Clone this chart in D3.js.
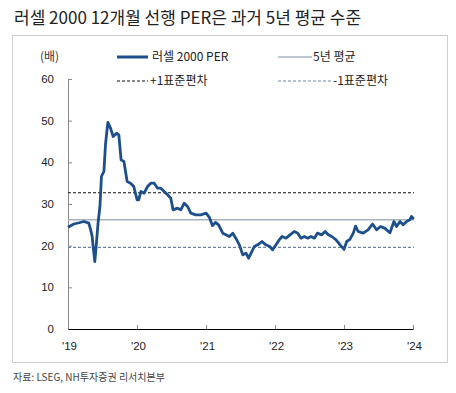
<!DOCTYPE html>
<html>
<head>
<meta charset="utf-8">
<script src="https://cdn.jsdelivr.net/npm/d3@7"></script>
<style>
  body { margin: 0; background: #fff; }
  text { font-family: "Noto Sans CJK KR", "Noto Sans", sans-serif; }
  .num { font-family: "Liberation Sans", Arial, sans-serif; }
</style>
</head>
<body>
<div id="chart"></div>
<script>
// Russell 2000 12m forward PER
const dates = [
  '2019-01-01','2019-02-01','2019-03-01','2019-03-26','2019-04-21','2019-05-01','2019-05-09','2019-05-14',
  '2019-05-23','2019-05-30','2019-06-09','2019-06-19','2019-06-27','2019-07-10','2019-07-19','2019-07-31',
  '2019-08-14','2019-08-28','2019-09-15','2019-09-27','2019-10-09','2019-10-24','2019-11-10','2019-11-28',
  '2019-12-15','2020-01-02','2020-01-10','2020-01-22','2020-02-08','2020-02-26','2020-03-14','2020-04-01',
  '2020-04-19','2020-05-06','2020-05-24','2020-06-11','2020-06-28','2020-07-10','2020-08-03','2020-08-20',
  '2020-09-07','2020-09-25','2020-10-12','2020-11-07','2020-12-04','2021-01-01','2021-01-18','2021-02-04',
  '2021-02-20','2021-03-08','2021-03-30','2021-04-16','2021-05-04','2021-05-22','2021-06-12','2021-06-26',
  '2021-07-14','2021-07-31','2021-08-14','2021-08-27','2021-09-13','2021-10-01','2021-10-24','2021-11-13',
  '2021-12-04','2021-12-19','2022-01-06','2022-01-23','2022-02-07','2022-02-28','2022-03-21','2022-04-13',
  '2022-05-01','2022-05-18','2022-06-05','2022-06-23','2022-07-10','2022-07-28','2022-08-13','2022-09-05',
  '2022-09-23','2022-10-10','2022-10-28','2022-11-20','2022-12-11','2023-01-01','2023-01-15','2023-02-01',
  '2023-02-19','2023-03-03','2023-03-17','2023-04-12','2023-05-08','2023-06-01','2023-06-22','2023-07-13',
  '2023-08-04','2023-09-01','2023-09-22','2023-10-06','2023-10-24','2023-11-10','2023-11-28','2023-12-15',
  '2023-12-24','2024-01-05'
]
const per = [
  24.4, 25.2, 25.5, 25.8, 25.4, 23.8, 22.2, 19.8,
  16.2, 19.8, 25.4, 29.4, 36.6, 37.8, 44.6, 49.6,
  48.2, 46.2, 47.0, 46.6, 40.6, 40.2, 35.4, 35.0,
  34.2, 31.0, 31.0, 33.0, 32.6, 34.2, 35.0, 35.0,
  33.8, 33.8, 33.0, 32.2, 31.4, 28.6, 29.0, 28.6,
  30.2, 29.4, 27.8, 27.4, 27.4, 27.8, 26.8, 24.8,
  25.6, 25.0, 23.0, 22.6, 22.2, 23.0, 21.4, 20.2,
  17.8, 18.2, 17.0, 18.2, 19.8, 20.2, 21.0, 20.2,
  19.8, 19.0, 20.2, 21.4, 22.2, 21.8, 22.6, 23.4,
  23.0, 21.8, 22.2, 21.8, 22.2, 21.8, 23.0, 22.6,
  23.4, 22.6, 22.2, 21.4, 20.2, 19.1, 21.0, 21.5,
  23.0, 24.7, 23.4, 23.0, 23.8, 25.2, 23.8, 24.6,
  24.2, 23.1, 25.8, 24.6, 25.8, 25.0, 25.8, 26.2,
  27.0, 26.4
]
const avg5y = 26.2
const plus1sd = 32.7
const minus1sd = 19.6

const yTicks = [0, 10, 20, 30, 40, 50, 60]
const xTickYears = [2019, 2020, 2021, 2022, 2023, 2024]

const title = '러셀 2000 12개월 선행 PER은 과거 5년 평균 수준'
const source = '자료: LSEG, NH투자증권 리서치본부'
const unitLabel = '(배)'
const legendLabels = ['러셀 2000 PER', '5년 평균', '+1표준편차', '-1표준편차']

const width = 456, height = 393
const parse = d3.timeParse('%Y-%m-%d')
const data = dates.map((d, i) => ({ date: parse(d), value: per[i] }))

const x = d3.scaleTime()
  .domain([new Date(2019, 0, 1), new Date(2024, 0, 1)])
  .range([68, 413])
const y = d3.scaleLinear()
  .domain([0, 60])
  .range([329, 79])

const svg = d3.select('#chart').append('svg')
  .attr('width', width)
  .attr('height', height)

// Title
svg.append('text')
  .attr('x', 14).attr('y', 24)
  .attr('font-size', 17)
  .attr('fill', '#222')
  .text(title)

// Frame
svg.append('rect')
  .attr('x', 12.5).attr('y', 35.5)
  .attr('width', 435).attr('height', 327)
  .attr('fill', 'none')
  .attr('stroke', '#cfcfcf')

// Unit
svg.append('text')
  .attr('x', 40).attr('y', 61)
  .attr('font-size', 12)
  .attr('fill', '#333')
  .text(unitLabel)

// Y axis
svg.append('g')
  .attr('transform', 'translate(68,0)')
  .call(d3.axisRight(y).tickValues(yTicks).tickSize(4).tickFormat(''))
  .call(g => g.select('.domain').attr('stroke', '#888'))
  .call(g => g.selectAll('.tick line').attr('stroke', '#888'))

svg.append('g').selectAll('text')
  .data(yTicks)
  .join('text')
  .attr('class', 'num')
  .attr('x', 54)
  .attr('y', d => y(d))
  .attr('dy', '0.35em')
  .attr('text-anchor', 'end')
  .attr('font-size', 11.5)
  .attr('fill', '#222')
  .text(d => d)

// X axis
svg.append('g')
  .attr('transform', 'translate(0,329)')
  .call(d3.axisTop(x)
    .tickValues(xTickYears.map(yr => new Date(yr, 0, 1)))
    .tickSize(4)
    .tickSizeOuter(0)
    .tickFormat(''))
  .call(g => g.select('.domain').attr('stroke', '#000').attr('stroke-width', 1.2))
  .call(g => g.selectAll('.tick line').attr('stroke', '#888'))

svg.append('g').selectAll('text')
  .data(xTickYears)
  .join('text')
  .attr('class', 'num')
  .attr('x', d => x(new Date(d, 0, 1)) + 1.5)
  .attr('y', 350)
  .attr('text-anchor', 'middle')
  .attr('font-size', 11.5)
  .attr('fill', '#222')
  .text(d => "'" + String(d).slice(2))

// Reference lines
const refs = [
  { v: plus1sd, stroke: '#111', dash: '3,2', w: 1.2 },
  { v: avg5y, stroke: '#a8b3c0', dash: null, w: 1.5 },
  { v: minus1sd, stroke: '#6f82a6', dash: '3,2', w: 1.1 }
]
svg.append('g').selectAll('line')
  .data(refs)
  .join('line')
  .attr('x1', 68).attr('x2', 414)
  .attr('y1', d => y(d.v)).attr('y2', d => y(d.v))
  .attr('stroke', d => d.stroke)
  .attr('stroke-width', d => d.w)
  .attr('stroke-dasharray', d => d.dash)

// PER line
const line = d3.line()
  .x(d => x(d.date))
  .y(d => y(d.value))
svg.append('path')
  .datum(data)
  .attr('fill', 'none')
  .attr('stroke', '#1c4f8b')
  .attr('stroke-width', 2.8)
  .attr('stroke-linejoin', 'round')
  .attr('d', line)

// Legend
const legend = [
  { x1: 117, x2: 148, y: 57, stroke: '#1c4f8b', w: 3, dash: null, tx: 152, label: legendLabels[0] },
  { x1: 278, x2: 312, y: 57, stroke: '#a8b3c0', w: 1.5, dash: null, tx: 313, label: legendLabels[1] },
  { x1: 117, x2: 148, y: 81, stroke: '#111', w: 1.2, dash: '3,2', tx: 150, label: legendLabels[2] },
  { x1: 278, x2: 331, y: 81, stroke: '#6f82a6', w: 1.1, dash: '3,2', tx: 333, label: legendLabels[3] }
]
const lg = svg.append('g').selectAll('g')
  .data(legend)
  .join('g')
lg.append('line')
  .attr('x1', d => d.x1).attr('x2', d => d.x2)
  .attr('y1', d => d.y).attr('y2', d => d.y)
  .attr('stroke', d => d.stroke)
  .attr('stroke-width', d => d.w)
  .attr('stroke-dasharray', d => d.dash)
lg.append('text')
  .attr('x', d => d.tx)
  .attr('y', d => d.y)
  .attr('dy', '0.35em')
  .attr('font-size', 12)
  .attr('fill', '#222')
  .text(d => d.label)

// Source
svg.append('text')
  .attr('x', 13).attr('y', 381)
  .attr('font-size', 10)
  .attr('fill', '#444')
  .text(source)
</script>
</body>
</html>
